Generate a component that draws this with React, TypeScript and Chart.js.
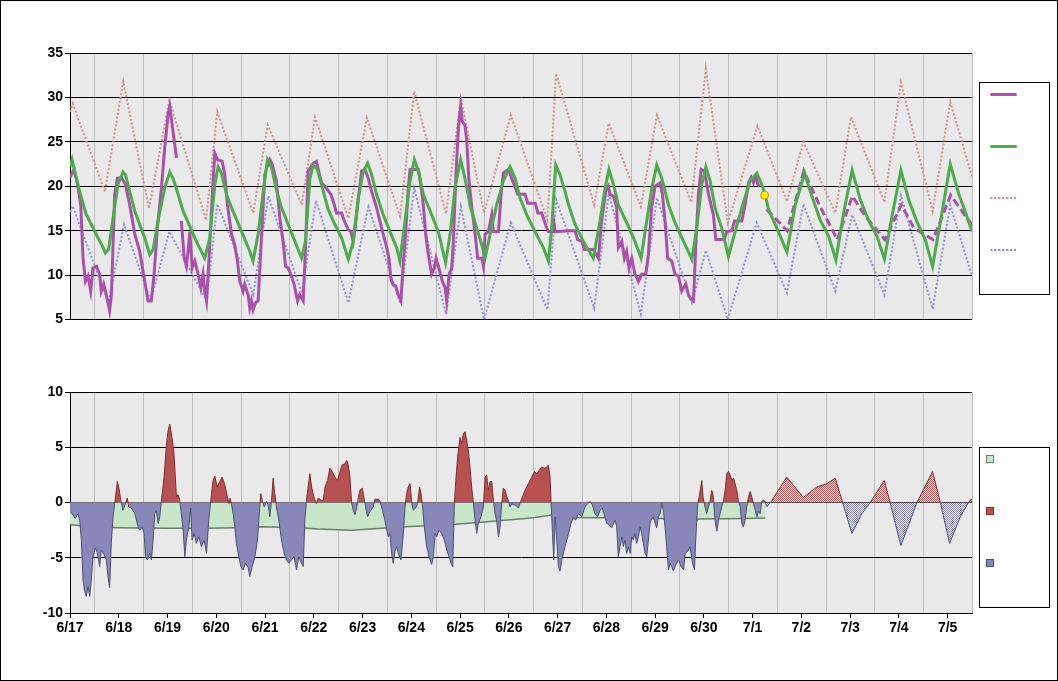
import React, { useEffect, useRef } from 'react';
import { Chart, registerables } from 'chart.js';

Chart.register(...registerables);

// ---------- DATA (hours since 6/17 00:00) ----------
const dayLabels = ['6/17', '6/18', '6/19', '6/20', '6/21', '6/22', '6/23', '6/24', '6/25', '6/26', '6/27', '6/28', '6/29', '6/30', '7/1', '7/2', '7/3', '7/4', '7/5'];
const noonLines = [12, 36, 60, 84, 108, 132, 156, 180, 204, 228, 252, 276, 300, 324, 348, 372, 396, 420, 444];
const topTicks = [5, 10, 15, 20, 25, 30, 35];
const bottomTicks = [-10, -5, 0, 5, 10];

const observedTemp: [number, number | null][] = [
  [0, 21.0], [2, 21.9], [3.6, 20.4], [5.3, 17.9], [6.4, 12.0], [7.6, 9.3], [8.9, 9.9], [10.2, 8.2], [11.3, 10.8], [13, 11.0], [14.6, 10.1], [15.4, 8.2], [16.6, 9.0], [17.9, 7.8], [19.5, 6.0], [20.4, 7.8], [22, 19.1], [23.3, 20.9], [25.3, 21.0], [27.3, 20.2], [29.4, 17.9], [31.9, 14.6], [34.3, 12.7], [36.8, 9.3], [38.4, 7.1], [40, 7.1], [41.4, 10.1], [43, 15.3], [45, 19.8], [46.6, 24.3], [48.3, 28.1], [49.1, 29.0], [50.7, 26.2], [52.4, 23.2], [53.5, null],
  [54.8, 16.1], [56.2, 12.0], [57.3, 11.0], [58.1, 12.7], [59, 14.9], [60.1, 10.8], [61.4, 11.6], [63.1, 10.1], [64.4, 8.6], [65.5, 10.1], [66.3, 8.2], [67.2, 7.1], [68.8, 13.4], [70.4, 20.6], [71.3, 23.7], [72.6, 23.0], [74.9, 22.8], [76.2, 21.3], [77.5, 17.9], [79.5, 14.6], [81.1, 13.4], [82.4, 11.6], [83.6, 9.3], [85.2, 8.2], [86, 9.0], [87.7, 7.8], [88.5, 6.3], [89.3, 7.1], [90.1, 6.1], [91.3, 6.9], [92.6, 7.1],
  [95.9, 21.3], [97, 22.2], [98.4, 23.0], [99.5, 22.5], [101.6, 20.6], [103.3, 16.4], [104.9, 13.8], [106.1, 11.0], [107.4, 10.8], [108.7, 10.1], [110.3, 9.0], [112, 7.1], [113.1, 7.8], [114.8, 7.1], [116, 13.4], [117.2, 21.7], [119.7, 22.6], [121.3, 22.8], [122.2, 21.9], [123.8, 20.4], [125.5, 20.0], [128.4, 19.1], [129.6, 18.3], [131.2, 17.0], [133.7, 17.0], [135, 16.1], [137, 15.1], [138.3, 14.9], [139.4, 13.8], [140.3, 15.3], [143.5, 21.7], [145.2, 21.9], [146.8, 20.9], [148.5, 19.4], [150.9, 17.6], [153.4, 15.3], [155.9, 13.1], [157, 11.9], [158, 9.5], [159.1, 8.9], [160.3, 8.8], [161.6, 7.8], [162.9, 7.1], [164.1, 11.6], [165.2, 14.6], [166.5, 19.8], [167.4, 21.9], [171.5, 21.9], [172.8, 20.0], [173.9, 17.9], [175.1, 14.6], [176.4, 12.3], [178, 10.1], [179.3, 10.8], [180.2, 11.9], [181.6, 10.8], [183.3, 9.3], [184.6, 8.6], [185.4, 7.1], [186.6, 10.1], [187.9, 10.8], [188.7, 13.8], [189.9, 20.9], [191.2, 26.6], [192.3, 29.0], [193.1, 27.3], [194.4, 26.9], [195.3, 25.1], [196.4, 20.6], [197.8, 17.6], [199.4, 14.6], [200.7, 11.9], [202.7, 11.9], [203.5, 11.0], [204.3, 14.6], [206, 14.9], [207.6, 16.8], [208.4, 14.9], [210.9, 14.9], [212.2, 19.1], [213.3, 21.5], [215.8, 21.9], [217.4, 20.9], [220.4, 19.1], [224, 19.1], [225.3, 18.1], [229, 18.1], [230.3, 17.0], [232.2, 17.0], [233.5, 16.1], [234.7, 15.3], [235.5, 14.9], [237.5, 14.9], [238.2, 15.9], [238.8, 14.9], [245.4, 15.0], [248.6, 15.0], [249.9, 14.0], [251.9, 13.8], [253.2, 12.9], [257.6, 12.9], [260.1, 11.9], [261.7, 16.1], [263.7, 19.4], [265, 20.0], [265.8, 19.1], [267.5, 18.9], [269.1, 17.6], [269.9, 13.1], [271.6, 13.8], [272.9, 11.9], [274, 12.7], [275.2, 10.8], [276.5, 11.9], [278.1, 10.1], [279.8, 9.3], [281.4, 10.1], [283.4, 10.1], [284.7, 12.3], [286.3, 17.6], [288, 20.0], [290.5, 20.4], [291.6, 19.1], [292.9, 16.1], [294.2, 11.9], [296.2, 11.6], [297.8, 10.1], [299.5, 9.9], [301.1, 8.2], [303.1, 9.0], [304.4, 7.8], [305.7, 7.3], [306.9, 7.1], [308, 13.1], [309.3, 19.1], [310.7, 21.9], [312.3, 21.7], [314.3, 19.1], [316.7, 16.8], [317.9, 14.0], [322.1, 14.0], [323.3, 14.9], [325.8, 15.0], [327.1, 16.1], [330.7, 16.1], [332.3, 17.9], [334, 20.4], [335.3, 21.0], [336.4, 20.4], [337.6, 21.1], [338.6, 20.2], [339.5, 20.0]
];

const currentTemp: [number, number][] = [[341.9, 19.0]];

const forecastTemp: [number, number][] = [
  [342.9, 17.4], [348, 16.2], [353, 15.0], [361.2, 21.7], [369.3, 17.7], [377.7, 14.0], [385.1, 18.9], [391.6, 16.6], [401.1, 14.0], [409.2, 17.9], [415.4, 15.3], [424.8, 14.0], [433.5, 19.0], [444.2, 15.6]
];

const normalTemp: [number, number][] = [
  [0, 22.2], [1, 23.0], [3.1, 20.9], [5.6, 18.7], [8, 16.8], [10.5, 15.7], [13.8, 14.2], [16.3, 13.1], [17.4, 12.5], [19, 12.9], [21.2, 16.4], [23.6, 20.2], [26.1, 21.6], [27.3, 21.3], [29.4, 19.4], [31.9, 17.2], [34.3, 15.7], [36.8, 14.2], [39.2, 12.3], [40.9, 12.9], [43.3, 16.1], [46.6, 19.8], [49.1, 21.6], [50.7, 20.9], [53.2, 19.1], [55.7, 17.2], [59, 15.5], [62.2, 13.8], [66.3, 11.9], [68.8, 14.2], [71.3, 20.2], [72.9, 22.2], [74.5, 21.5], [77, 19.1], [79.5, 17.6], [81.9, 16.3], [85.2, 14.5], [88.5, 12.7], [90.1, 11.6], [92.6, 14.6], [95.1, 19.4], [97.2, 23.0], [99.2, 22.1], [101.6, 19.6], [104.1, 17.6], [107.4, 15.7], [110.7, 13.8], [114, 11.9], [115.9, 13.8], [118.1, 20.9], [119.7, 22.4], [121.8, 21.9],
  [124.7, 19.4], [127.1, 17.4], [130.4, 15.7], [133.7, 14.2], [137, 11.8], [139.4, 13.8], [141.9, 18.7], [144.4, 21.7], [146.5, 22.6], [148.5, 21.3], [150.9, 19.1], [154.2, 16.8], [157.5, 14.9], [160.8, 13.1], [162.4, 11.6], [164.9, 16.1], [167.4, 20.6], [169.5, 23.0], [171.5, 21.7], [173.9, 19.1], [178, 16.8], [181.3, 14.9], [184.9, 11.4], [187.1, 14.6], [189.5, 19.8], [192.3, 23.0], [194.4, 20.9], [196.9, 17.9], [200.2, 15.3], [202.7, 13.4], [204.3, 11.9], [206.8, 14.6], [210, 17.9], [213.3, 20.6], [216.6, 22.2], [219.1, 20.9], [221.5, 18.7], [224.8, 16.8], [228.9, 14.9], [233, 13.1], [235.5, 11.6], [237.1, 15.3], [239.1, 22.4], [241.2, 21.3], [243.7, 19.4],
  [245.3, 18.0], [248.6, 15.7], [252.7, 13.8], [257.6, 11.9], [260.9, 16.1], [263.4, 19.8], [265.3, 21.9], [267.5, 20.2], [269.9, 17.9], [274, 15.9], [278.1, 13.8], [281.1, 11.9], [283.9, 16.1], [286.4, 19.8], [288.8, 22.4], [291.3, 20.9], [294.6, 17.9], [297.8, 15.9], [302, 13.8], [306.1, 11.8], [308.5, 15.3], [311, 20.2], [313, 22.2], [315.1, 20.6], [317.5, 17.6], [320.8, 15.3], [324.1, 12.1], [327.4, 14.9], [330.7, 17.6], [334.8, 20.6], [338.1, 21.5], [340.5, 20.2], [342.2, 19.1], [343.8, 17.4], [348.7, 14.9], [352.9, 12.6], [357, 17.9], [361.6, 21.5], [364.4, 19.4],
  [369.3, 16.2], [373.4, 14.4], [377, 11.7], [380.8, 17.0], [385, 21.8], [389, 18.5], [393, 16.2], [397.2, 14.4], [400.9, 11.8], [404.6, 16.6], [409, 21.8], [412.8, 18.5], [416.9, 16.0], [421, 14.0], [424.6, 11.0], [429.2, 17.0], [433.3, 22.5], [437.4, 19.2], [441.5, 16.6], [444, 14.9]
];

const recordHigh: [number, number][] = [
  [0, 28.4], [1.3, 29.3], [17.2, 19.4], [26.2, 31.8], [38.9, 17.5], [48.9, 29.7], [67.0, 16.2], [72.5, 28.4], [90.2, 17.0], [97.3, 26.9], [114.1, 17.9], [120.6, 27.8], [137.0, 16.4], [146.1, 27.7], [162.5, 16.6], [169.4, 30.7], [185.1, 16.9], [192.4, 29.9], [203.8, 17.0], [217.0, 28.0], [235.0, 16.2], [239.3, 32.7], [258.0, 17.9], [265.2, 27.1], [281.0, 17.7], [288.9, 28.0], [305.8, 18.2], [313.0, 33.2], [323.8, 15.9], [338.4, 26.8], [352.9, 18.3], [361.0, 25.0], [376.7, 17.0], [384.4, 27.8], [400.9, 18.2], [409.0, 31.7], [424.6, 17.2], [433.3, 29.5], [444.0, 21.1]
];

const recordLow: [number, number][] = [
  [0, 17.1], [1.3, 17.8], [18.9, 6.9], [26.6, 15.7], [39.7, 7.1], [48.9, 14.9], [67.3, 7.1], [72.5, 18.0], [90.2, 7.8], [97.6, 18.9], [114.1, 8.0], [121.1, 18.4], [137.0, 6.9], [146.9, 17.7], [162.5, 6.9], [169.4, 19.8], [185.1, 5.6], [192.4, 17.7], [203.8, 5.0], [217.0, 15.9], [235.0, 6.1], [239.3, 18.5], [258.0, 6.3], [265.2, 19.2], [281.0, 5.6], [288.9, 18.7], [306.1, 6.9], [313.0, 12.8], [323.8, 5.0], [338.0, 15.9], [352.9, 8.0], [361.0, 18.0], [376.7, 8.2], [385.0, 16.8], [400.9, 7.8], [409.0, 19.0], [424.6, 6.2], [433.3, 17.9], [444.0, 9.9]
];

const observedAnomaly: [number, number][] = [
  [0, -0.8], [1.5, -1.14], [2.6, -1.44], [3.9, -1.0], [4.8, -1.6], [5.6, -3.4], [6.4, -7.0], [7.2, -8.0], [8.0, -8.5], [8.9, -7.6], [9.7, -8.5], [10.5, -7.0], [11.3, -4.9], [12.5, -4.1], [13.5, -4.6], [14.6, -5.8], [15.4, -4.3], [16.7, -4.7], [17.9, -5.2], [18.7, -6.7], [19.5, -7.7], [20.4, -3.4], [21.2, -1.3], [22, -0.1], [22.8, 1.1], [23.3, 1.9], [24, 1.4], [25, 0.2], [26.1, -0.7], [27.3, -0.1], [28.2, 0.4], [28.9, -0.4], [30.2, -0.5], [31.9, -1.0], [33.5, -2.2], [34.3, -2.5], [35.5, -2.2], [36.5, -2.8], [37.1, -4.9], [38.1, -5.2], [39.2, -4.6], [40.1, -5.2], [40.9, -3.4], [41.7, -1.0], [42.5, -0.7], [43.4, -1.9], [44.2, -1.3], [45, 0.2], [46.3, 2.3], [47.5, 5.3], [48.3, 6.5], [49.1, 7.1], [50.2, 5.9], [51.2, 4.4], [52.4, 0.5], [53.2, 0.7], [54, 0.2], [54.8, -1.0], [55.7, -2.5], [56.5, -4.9], [57.3, -3.4], [58.5, -2.2], [59.4, -0.5], [60.1, -3.4], [61.1, -2.8], [62.2, -3.7], [63.4, -3.1], [64.7, -4.0], [66, -3.4], [67.2, -4.6], [68.3, -1.6], [69.3, 0.2], [70.4, 2.0], [71.3, 2.4], [72.4, 1.4], [73.7, 1.9], [74.9, 2.3], [76.2, 1.6], [77.5, 0.5], [78.2, -0.1], [78.8, 0.4], [79.5, -0.2], [80.3, -1.0], [81.1, -2.2], [81.9, -3.7], [83.1, -4.9], [84.1, -5.8], [85.2, -6.1], [86.4, -5.5], [87.7, -5.9], [88.5, -6.7], [89.7, -5.8], [91, -4.9], [92.3, -3.4], [93.4, -0.4], [93.9, 0.8], [94.6, 0.2], [95.6, -0.4], [96.7, 0.1], [97.5, -0.2], [98.4, -1.3], [99.2, 0.2], [100, 2.2], [100.8, 0.8], [101.6, -0.4], [102.8, -1.6], [104.1, -3.4], [105.4, -4.6], [106.6, -5.2], [107.7, -5.5], [109, -5.2], [110.3, -4.9], [111.5, -6.1], [112.6, -4.9], [113.9, -5.5], [114.8, -5.8], [115.6, -1.6], [116.4, 0.2], [117.2, 1.4], [118.1, 2.6], [118.9, 1.4], [120.2, 0.4], [121.3, -0.1],
  [122.2, 0.4], [123.8, 0.2], [124.7, 0.2], [125.5, 1.4], [126.8, 2.0], [127.9, 3.1], [129.1, 2.8], [130.4, 2.3], [131.7, 2.0], [132.9, 2.8], [134, 3.4], [135.3, 3.5], [136.2, 3.8], [137, 3.4], [137.8, 2.3], [138.6, 0], [139.4, -0.7], [140.3, -1.1], [141.1, -0.5], [141.9, 0.4], [142.7, 1.1], [143.9, 1.3], [144.9, 0.2], [145.5, -0.4], [146.5, -1.3], [147.2, -1.0], [148.1, -0.7], [149.3, -0.4], [150.1, 0.3], [151.8, 0.3], [152.6, 0.1], [153.4, -0.4], [155, -1.6], [155.9, -2.5], [156.7, -3.1], [157.5, -2.8], [158.3, -4.6], [159.1, -5.5], [160, -4.4], [160.8, -4.0], [161.6, -4.6], [162.9, -5.2], [164.1, -2.8], [164.9, -0.4], [165.7, 0.8], [166.5, 1.4], [167.4, 1.7], [168.2, -0.1], [169, -0.7], [170.1, -0.5], [171.1, -0.1], [172.1, 1.4], [172.8, 0.8], [173.4, -0.1], [174.4, -2.2], [175.6, -4.0], [176.7, -4.9], [178, -5.6], [178.9, -4.9], [179.7, -2.8], [180.5, -3.1], [181.6, -2.5], [182.9, -2.8], [184.3, -3.4], [185.4, -4.3], [186.6, -4.9], [187.6, -5.5], [188.4, -5.8], [189.2, -0.1], [189.9, 2.0], [190.8, 4.1], [192, 5.9], [192.8, 5.3], [193.6, 6.2], [194.5, 6.4], [195.3, 5.6], [196.1, 4.7], [196.9, 3.2], [197.7, 1.4], [198.6, -0.1], [199.4, -1.6], [200.2, -2.8], [201, -1.9], [202.3, -1.3], [203.5, -0.4], [204.3, 2.3], [205.1, 2.5], [205.9, 1.1], [206.8, 1.9], [207.6, 1.9], [208.4, 0.2], [209.2, -1.0], [210, -1.6], [210.9, -3.1], [211.7, -2.2], [212.5, -0.1], [213.3, 1.3], [214.2, 1.1], [215, 0.5], [215.8, 0.2], [216.6, -0.4], [217.4, -0.1], [218.3, -0.2], [219.1, -0.2], [220.7, -0.5], [221.5, -0.1], [222.7, 0.5], [224, 1.1], [225.6, 1.7], [227.3, 2.3], [228.6, 2.8], [229.8, 2.6], [230.9, 2.9], [232.2, 3.2], [233.5, 3.1], [234.7, 3.2], [235.5, 3.4], [236.3, 2.3], [236.8, 0], [237.5, -2.8], [238.1, -5.2], [238.8, -1.3], [239.6, -3.4], [240.4, -5.8], [241.2, -6.2], [242.1, -5.2], [243.7, -4.0],
  [245.4, -2.8], [246.6, -1.9], [247.8, -1.3], [248.9, -1.6], [250.2, -1.0], [251.9, -1.3], [253.5, -0.4], [254.8, -0.1], [256, 0.1], [257.1, -0.2], [258.4, -1.0], [259.7, -1.3], [260.9, -0.7], [262, -0.5], [263, -1.1], [264.2, -1.9], [265.3, -2.0], [266.6, -2.3], [268.3, -1.6], [269.1, -2.2], [269.9, -4.9], [270.8, -4.0], [271.6, -3.1], [272.4, -4.0], [273.2, -3.4], [274, -4.6], [274.9, -4.0], [275.7, -4.6], [276.5, -3.1], [277.3, -3.4], [278.1, -2.8], [278.9, -3.7], [279.8, -3.1], [280.6, -2.2], [281.4, -2.8], [282.2, -3.7], [283.1, -4.6], [283.9, -4.9], [284.7, -3.4], [285.5, -1.9], [286.4, -1.4], [287.2, -1.3], [288, -1.9], [288.8, -2.3], [289.6, -1.3], [290.5, -1.0], [291.3, -0.1], [292.1, -0.7], [292.9, -2.2], [293.7, -4.0], [294.6, -6.1], [295.4, -5.5], [296.2, -5.8], [297, -6.2], [297.8, -5.8], [299.5, -5.2], [300.8, -5.8], [302, -6.1], [302.8, -4.6], [304.1, -4.4], [305.2, -4.0], [306.4, -5.5], [307.4, -6.1], [308, -3.4], [309, -0.1], [309.7, 0.5], [310.5, 1.4], [311, 2.0], [311.6, 0.5], [312.6, -0.4], [313.4, -1.0], [314.3, -0.4], [315.1, 0.2], [315.9, 1.1], [316.7, 0.5], [317.5, -1.6], [318.4, -2.6], [319.2, -1.6], [320, -1.0], [320.8, -0.4], [321.7, 0.2], [322.5, 1.1], [323.3, 2.6], [324.1, 2.8], [324.9, 2.5], [325.8, 2.0], [326.6, 2.2], [327.4, 1.7], [328.2, 1.1], [329.0, 0.2], [329.9, -0.4], [330.7, -1.9], [331.5, -2.2], [332.3, -1.6], [333.1, -0.4], [334, 0.5], [334.8, 1.0], [335.6, 0.5], [336.4, -0.1], [337.3, -0.7], [338.1, -1.3], [338.9, -0.8], [339.7, -1.0], [340.5, 0.1], [341.4, 0.2], [342.2, 0.1]
];

const forecastAnomaly: [number, number][] = [
  [342.2, 0.1], [343, -0.4], [345.5, 0.2], [352.8, 2.3], [361, 0.45], [367.6, 1.4], [372.5, 1.7], [376.7, 2.2], [380.3, 0], [384.9, -2.8], [389.8, -1.0], [393.9, 0], [400.8, 2.0], [403.7, 0], [409, -3.9], [416.9, 0], [424.6, 2.8], [428.4, 0], [433, -3.7], [438.2, -1.3], [442.3, 0], [444, 0.36]
];

const meanAnomaly: [number, number][] = [
  [0, -2.0], [9, -2.2], [24, -2.28], [48, -2.34], [68, -2.34], [81, -2.28], [94, -2.2], [114, -2.28], [122, -2.4], [138.6, -2.5], [155, -2.3], [165, -2.2], [188, -2.0], [204, -1.77], [214, -1.6], [224, -1.44], [229, -1.35], [237, -1.14], [245, -1.35], [275, -1.4], [276, -1.45], [292, -1.45], [293, -1.65], [308.5, -1.65], [309, -1.5], [333, -1.45], [342.2, -1.4]
];

// ---------- STYLE ----------
const FONT = "'Liberation Sans', Arial, Helvetica, sans-serif";
const PLOT_BG = '#E9E9E9';
const NOON_LINE = '#BDBDBD';
const PURPLE = '#AA50AA';
const GREEN = '#4DAA4D';
const HIGH_C = '#CF9090';
const LOW_C = '#8E8ED6';
const RED = '#B85252';
const RED_EDGE = '#7A2E2E';
const BLUE = '#8787BA';
const BLUE_EDGE = '#4E4E70';
const MEAN_FILL = '#C8E6C8';
const MEAN_EDGE = '#6C7E6C';

const xy = (arr: [number, number | null][]) => arr.map(([x, y]) => ({ x, y }));

const plotPlugin = {
  id: 'plotBackground',
  beforeDraw(chart: any) {
    const { ctx, chartArea: a, scales } = chart;
    ctx.save();
    ctx.fillStyle = PLOT_BG;
    ctx.fillRect(a.left, a.top, a.right - a.left, a.bottom - a.top);
    ctx.strokeStyle = NOON_LINE;
    ctx.lineWidth = 1;
    for (const h of noonLines) {
      const px = Math.round(scales.x.getPixelForValue(h)) + 0.5;
      ctx.beginPath();
      ctx.moveTo(px, a.top);
      ctx.lineTo(px, a.bottom);
      ctx.stroke();
    }
    ctx.restore();
  },
};

function makePattern(ctx: CanvasRenderingContext2D, color: string) {
  const c = document.createElement('canvas');
  c.width = 2;
  c.height = 2;
  const g = c.getContext('2d')!;
  g.fillStyle = '#F2EEEE';
  g.fillRect(0, 0, 2, 2);
  g.fillStyle = color;
  g.fillRect(0, 0, 1, 1);
  g.fillRect(1, 1, 1, 1);
  return ctx.createPattern(c, 'repeat')!;
}

const yAxisBase = (min: number, max: number, ticks: number[]) => ({
  min,
  max,
  afterFit: (s: any) => {
    s.width = 70;
  },
  afterBuildTicks: (s: any) => {
    s.ticks = ticks.map((v) => ({ value: v }));
  },
  ticks: {
    color: '#000',
    padding: 2,
    font: { family: FONT, size: 14, weight: 'bold' as const },
  },
  grid: { color: '#000', lineWidth: 1, tickLength: 5, tickColor: '#000' },
  border: { display: true, color: '#000', width: 1 },
});

export default function App() {
  const topRef = useRef<HTMLCanvasElement>(null);
  const botRef = useRef<HTMLCanvasElement>(null);

  useEffect(() => {
    const topCanvas = topRef.current!;
    const botCanvas = botRef.current!;

    const top = new Chart(topCanvas, {
      type: 'line',
      data: {
        datasets: [
          {
            data: xy(currentTemp),
            showLine: false,
            pointRadius: 4,
            pointBackgroundColor: '#FFF000',
            pointBorderColor: '#C89000',
            pointBorderWidth: 1,
            order: 0,
          },
          {
            data: xy(normalTemp),
            borderColor: GREEN,
            borderWidth: 3,
            pointRadius: 0,
            tension: 0,
            order: 1,
          },
          {
            data: xy(observedTemp),
            borderColor: PURPLE,
            borderWidth: 3,
            pointRadius: 0,
            spanGaps: false,
            tension: 0,
            order: 2,
          },
          {
            data: xy(forecastTemp),
            borderColor: PURPLE,
            borderWidth: 3,
            borderDash: [8, 4],
            pointRadius: 0,
            tension: 0,
            order: 2,
          },
          {
            data: xy(recordHigh),
            borderColor: HIGH_C,
            borderWidth: 2,
            borderDash: [2, 2],
            pointRadius: 0,
            tension: 0,
            order: 3,
          },
          {
            data: xy(recordLow),
            borderColor: LOW_C,
            borderWidth: 2,
            borderDash: [2, 2],
            pointRadius: 0,
            tension: 0,
            order: 4,
          },
        ],
      },
      options: {
        responsive: false,
        animation: false,
        maintainAspectRatio: false,
        layout: { padding: { top: 53, right: 86, bottom: 10, left: 0 } },
        plugins: { legend: { display: false }, tooltip: { enabled: false } },
        scales: {
          x: { type: 'linear', min: 0, max: 444, display: false },
          y: yAxisBase(5, 35, topTicks) as any,
        },
      },
      plugins: [plotPlugin],
    });

    const bctx = botCanvas.getContext('2d')!;
    const redPattern = makePattern(bctx, RED);
    const bluePattern = makePattern(bctx, BLUE);
    const edge = (c: any) =>
      (c.p0.parsed.y + c.p1.parsed.y) / 2 >= 0 ? RED_EDGE : BLUE_EDGE;

    const bottom = new Chart(botCanvas, {
      type: 'line',
      data: {
        datasets: [
          {
            data: xy(observedAnomaly),
            borderColor: BLUE_EDGE,
            borderWidth: 1,
            pointRadius: 0,
            tension: 0,
            fill: { target: 'origin', above: RED, below: BLUE },
            segment: { borderColor: edge },
            order: 0,
          } as any,
          {
            data: xy(forecastAnomaly),
            borderColor: BLUE_EDGE,
            borderWidth: 1,
            pointRadius: 0,
            tension: 0,
            fill: { target: 'origin', above: redPattern, below: bluePattern },
            segment: { borderColor: edge },
            order: 0,
          } as any,
          {
            data: xy(meanAnomaly),
            borderColor: MEAN_EDGE,
            borderWidth: 1.5,
            pointRadius: 0,
            tension: 0,
            fill: { target: 'origin', above: MEAN_FILL, below: MEAN_FILL },
            order: 5,
          } as any,
        ],
      },
      options: {
        responsive: false,
        animation: false,
        maintainAspectRatio: false,
        layout: { padding: { top: 52, right: 86, bottom: 38, left: 0 } },
        plugins: { legend: { display: false }, tooltip: { enabled: false } },
        scales: {
          x: {
            type: 'linear',
            min: 0,
            max: 444,
            afterFit: (s: any) => {
              s.height = 30;
            },
            afterBuildTicks: (s: any) => {
              s.ticks = dayLabels.map((_, i) => ({ value: i * 24 }));
            },
            ticks: {
              color: '#000',
              padding: 2,
              maxRotation: 0,
              autoSkip: false,
              font: { family: FONT, size: 14, weight: 'bold' },
              callback: (v: any) => dayLabels[Math.round(Number(v) / 24)] ?? '',
            },
            grid: { drawOnChartArea: false, color: '#000', tickLength: 5, tickColor: '#000' },
            border: { display: true, color: '#000' },
          },
          y: { ...(yAxisBase(-10, 10, bottomTicks) as any), z: 1 },
        },
      },
      plugins: [plotPlugin],
    });

    return () => {
      top.destroy();
      bottom.destroy();
    };
  }, []);

  const legendLine = (top: number, color: string, dotted: boolean) => (
    <div
      style={{
        position: 'absolute',
        left: 10,
        top: top - (dotted ? 1 : 1.5),
        width: 27,
        height: 0,
        borderTop: dotted ? `2px dotted ${color}` : `3px solid ${color}`,
        borderRadius: 2,
      }}
    />
  );

  const legendSquare = (top: number, fill: string, edgeColor: string) => (
    <div
      style={{
        position: 'absolute',
        left: 6,
        top: top - 4,
        width: 8,
        height: 8,
        boxSizing: 'border-box',
        background: fill,
        border: `1px solid ${edgeColor}`,
      }}
    />
  );

  return (
    <div
      style={{
        position: 'absolute',
        left: 0,
        top: 0,
        width: 1058,
        height: 681,
        boxSizing: 'border-box',
        border: '1px solid #000',
        background: '#fff',
        overflow: 'hidden',
      }}
    >
      <canvas
        ref={topRef}
        width={1058}
        height={330}
        style={{ position: 'absolute', left: -1, top: -1, width: 1058, height: 330 }}
      />
      <canvas
        ref={botRef}
        width={1058}
        height={341}
        style={{ position: 'absolute', left: -1, top: 339, width: 1058, height: 341 }}
      />
      <div
        style={{
          position: 'absolute',
          left: 978,
          top: 81,
          width: 71,
          height: 213,
          boxSizing: 'border-box',
          border: '1px solid #000',
          background: '#fff',
        }}
      >
        {legendLine(11, PURPLE, false)}
        {legendLine(63, GREEN, false)}
        {legendLine(115, HIGH_C, true)}
        {legendLine(167, LOW_C, true)}
      </div>
      <div
        style={{
          position: 'absolute',
          left: 978,
          top: 446,
          width: 71,
          height: 161,
          boxSizing: 'border-box',
          border: '1px solid #000',
          background: '#fff',
        }}
      >
        {legendSquare(11, MEAN_FILL, MEAN_EDGE)}
        {legendSquare(63, RED, RED_EDGE)}
        {legendSquare(115, BLUE, BLUE_EDGE)}
      </div>
    </div>
  );
}
